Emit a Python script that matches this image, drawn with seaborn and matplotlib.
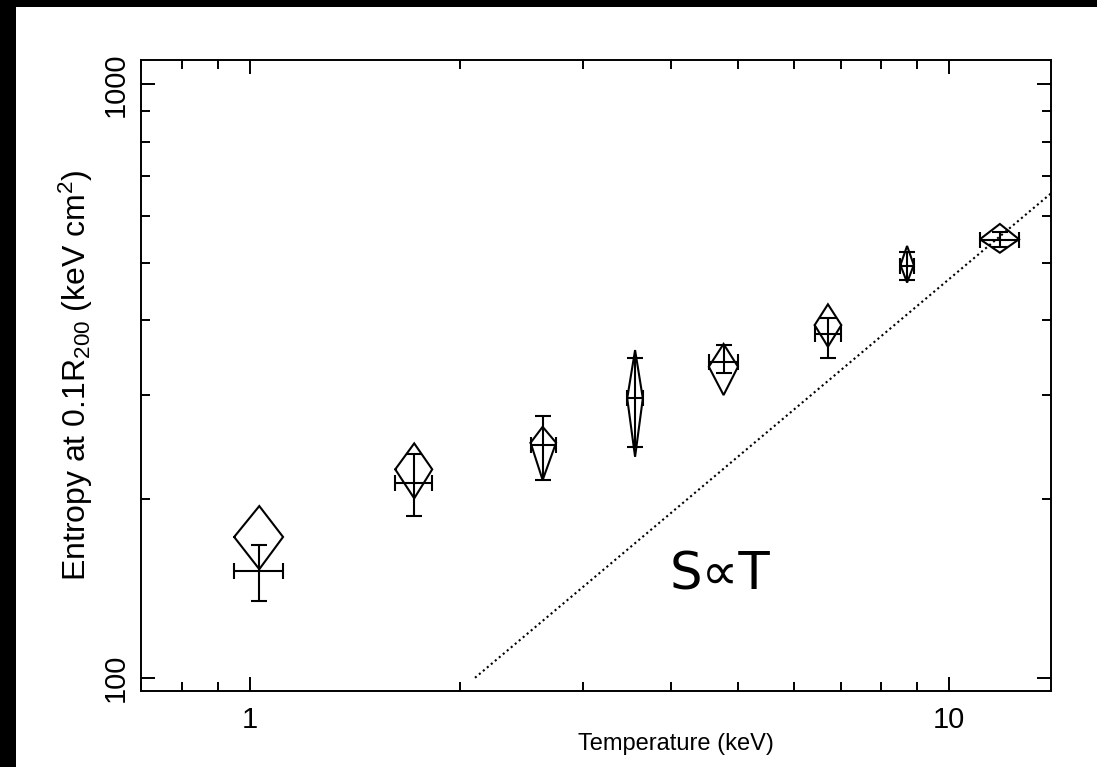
import numpy as np
import pandas as pd
import matplotlib
matplotlib.use("Agg")
import matplotlib.pyplot as plt
from matplotlib.patches import Rectangle
from matplotlib.ticker import LogLocator, NullFormatter
import seaborn as sns

# ---- data ----
# temperature (keV) with errors (shared by cross and diamond)
T = [1.032, 1.719, 2.624, 3.558, 4.762, 6.715, 8.715, 11.83]
T_lo = [0.950, 1.615, 2.522, 3.467, 4.536, 6.428, 8.527, 11.08]
T_hi = [1.116, 1.824, 2.743, 3.650, 4.993, 7.018, 8.910, 12.60]
# entropy at 0.1 R200, error-bar crosses
S = [151.5, 212.6, 246.7, 295.7, 340.8, 379.1, 494.2, 546.7]
S_lo = [134.9, 187.3, 215.4, 245.1, 325.8, 346.2, 468.0, 531.3]
S_hi = [167.4, 238.5, 276.4, 345.4, 363.8, 403.5, 521.8, 564.6]
# entropy, diamond symbols
D = [172.7, 224.5, 248.9, 295.7, 334.3, 392.9, 496.1, 548.2]
D_lo = [152.4, 200.6, 215.4, 235.7, 299.5, 361.3, 463.4, 520.3]
D_hi = [194.7, 248.3, 264.8, 356.6, 365.2, 425.9, 534.1, 581.7]
# S proportional to T reference line (end points)
T_line = [2.10, 14.0]
S_line = [100.0, 655.0]

x_ticks = [1, 10]
x_ticklabels = ["1", "10"]
y_ticks = [100, 1000]
y_ticklabels = ["100", "1000"]

sns.set_theme(style="ticks")
plt.rcParams["font.family"] = ["Liberation Sans", "DejaVu Sans"]
plt.rcParams["mathtext.default"] = "regular"

fig = plt.figure(figsize=(10.97, 7.67), dpi=100)
fig.patch.set_facecolor("black")
fig.add_artist(Rectangle((16 / 1097, 0), 1 - 16 / 1097, 1 - 7 / 767,
                         transform=fig.transFigure, facecolor="white",
                         edgecolor="none", zorder=-5))
ax = fig.add_axes([141 / 1097, (767 - 691) / 767, (1051 - 141) / 1097, (691 - 60) / 767])
ax.set_facecolor("white")

ax.set_xscale("log")
ax.set_yscale("log")

lw = 1.5
# reference line
line_df = pd.DataFrame({"T": T_line, "S": S_line})
sns.lineplot(data=line_df, x="T", y="S", ax=ax, color="black", lw=1.5,
             linestyle=(0, (1, 1.5)), sort=False)

# error-bar crosses
Ta = np.array(T); Sa = np.array(S)
ax.errorbar(Ta, Sa,
            xerr=[Ta - np.array(T_lo), np.array(T_hi) - Ta],
            yerr=[Sa - np.array(S_lo), np.array(S_hi) - Sa],
            fmt="none", ecolor="black", elinewidth=lw, capsize=5.5, capthick=lw)

# diamonds
for x, xl, xh, y, yl, yh in zip(T, T_lo, T_hi, D, D_lo, D_hi):
    ax.plot([xl, x, xh, x, xl], [y, yh, y, yl, y], color="black", lw=lw,
            solid_joinstyle="miter")

ax.text(4.70, 149, "S\u221dT", fontsize=37, ha="center", va="center",
        family=["DejaVu Sans"], color="black")

ax.set_xlim(0.699, 14.0)
ax.set_ylim(95.0, 1099)

ax.xaxis.set_major_locator(plt.FixedLocator(x_ticks))
ax.set_xticklabels(x_ticklabels)
ax.yaxis.set_major_locator(plt.FixedLocator(y_ticks))
ax.set_yticklabels(y_ticklabels)
ax.xaxis.set_minor_locator(LogLocator(base=10, subs=np.arange(2, 10)))
ax.yaxis.set_minor_locator(LogLocator(base=10, subs=np.arange(2, 10)))
ax.xaxis.set_minor_formatter(NullFormatter())
ax.yaxis.set_minor_formatter(NullFormatter())

ax.tick_params(which="both", direction="in", top=True, right=True,
               width=1.4, color="black", labelsize=21, labelcolor="black")
ax.tick_params(which="major", length=10)
ax.tick_params(which="minor", length=6.5)
ax.tick_params(axis="x", which="major", pad=11)
ax.tick_params(axis="y", which="major", pad=8)
plt.setp(ax.get_yticklabels(), rotation=90, va="center")

for sp in ax.spines.values():
    sp.set_visible(True)
    sp.set_color("black")
    sp.set_linewidth(1.4)

ax.set_xlabel("Temperature (keV)", fontsize=17, color="black", labelpad=4)
ax.xaxis.set_label_coords((676 - 141) / 910, -0.067)
ax.set_ylabel("Entropy at 0.1R$_{200}$ (keV cm$^2$)", fontsize=23,
              color="black", labelpad=5)

fig.savefig("out.png", dpi=100, facecolor=fig.get_facecolor())
